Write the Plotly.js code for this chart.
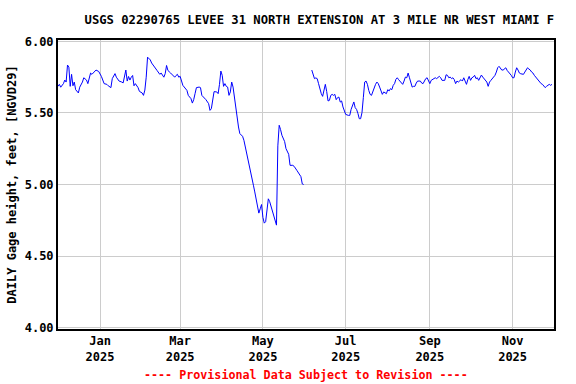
<!DOCTYPE html>
<html>
<head>
<meta charset="utf-8">
<script src="https://cdn.plot.ly/plotly-3.0.1.min.js"></script>
<style>html,body{margin:0;padding:0;background:#fff}#chart{width:576px;height:384px}</style>
</head>
<body>
<div id="chart"></div>
<script>
const chartTitle = "USGS 02290765 LEVEE 31 NORTH EXTENSION AT 3 MILE NR WEST MIAMI F";
const yAxisTitle = "DAILY Gage height, feet, [NGVD29]";
const footnote = "---- Provisional Data Subject to Revision ----";

const tickDates = ["2025-01-01","2025-03-01","2025-05-01","2025-07-01","2025-09-01","2025-11-01"];
const tickLabels = ["Jan<br>2025","Mar<br>2025","May<br>2025","Jul<br>2025","Sep<br>2025","Nov<br>2025"];
const yTicks = [4.00, 4.50, 5.00, 5.50, 6.00];

const dates = [
"2024-12-01","2024-12-02","2024-12-03","2024-12-05","2024-12-06","2024-12-07","2024-12-08","2024-12-09","2024-12-10","2024-12-11",
"2024-12-12","2024-12-13","2024-12-14","2024-12-16","2024-12-17","2024-12-19","2024-12-20","2024-12-22","2024-12-23","2024-12-25",
"2024-12-26","2024-12-28","2024-12-29","2024-12-31","2025-01-02","2025-01-04","2025-01-06","2025-01-07","2025-01-09","2025-01-10",
"2025-01-12","2025-01-13","2025-01-15","2025-01-17","2025-01-18","2025-01-20","2025-01-21","2025-01-22","2025-01-23","2025-01-24",
"2025-01-25","2025-01-26","2025-01-27","2025-01-29","2025-01-30","2025-02-01","2025-02-02","2025-02-03","2025-02-04","2025-02-05",
"2025-02-07","2025-02-08","2025-02-10","2025-02-12","2025-02-14","2025-02-15","2025-02-17","2025-02-18","2025-02-19","2025-02-20",
"2025-02-22","2025-02-23","2025-02-25","2025-02-26","2025-02-27","2025-02-28",
"2025-03-01","2025-03-03","2025-03-04","2025-03-06","2025-03-07","2025-03-09","2025-03-10","2025-03-11","2025-03-12","2025-03-13",
"2025-03-15","2025-03-16","2025-03-17","2025-03-19","2025-03-20","2025-03-22","2025-03-23","2025-03-24","2025-03-25","2025-03-26",
"2025-03-28","2025-03-29","2025-03-30","2025-03-31","2025-04-01","2025-04-02","2025-04-03","2025-04-04","2025-04-05","2025-04-06",
"2025-04-07","2025-04-08","2025-04-09","2025-04-10","2025-04-11","2025-04-12","2025-04-13","2025-04-14","2025-04-16","2025-04-17",
"2025-04-18","2025-04-19","2025-04-20","2025-04-21","2025-04-22","2025-04-23","2025-04-24","2025-04-25","2025-04-26","2025-04-27",
"2025-04-28","2025-04-29","2025-04-30","2025-05-01","2025-05-02","2025-05-03","2025-05-04","2025-05-05","2025-05-06","2025-05-07",
"2025-05-08","2025-05-09","2025-05-10","2025-05-11","2025-05-12","2025-05-13","2025-05-14","2025-05-15","2025-05-17","2025-05-18",
"2025-05-20","2025-05-21","2025-05-23","2025-05-24","2025-05-26","2025-05-27","2025-05-29","2025-05-30","2025-05-31",
"2025-06-03",
"2025-06-06","2025-06-07","2025-06-08","2025-06-09","2025-06-10","2025-06-11","2025-06-12","2025-06-13","2025-06-14","2025-06-15",
"2025-06-16","2025-06-17","2025-06-18","2025-06-19","2025-06-20","2025-06-21","2025-06-22","2025-06-23","2025-06-24","2025-06-25",
"2025-06-26","2025-06-27","2025-06-28","2025-06-29","2025-06-30","2025-07-01","2025-07-03","2025-07-04","2025-07-05","2025-07-06",
"2025-07-07","2025-07-08","2025-07-09","2025-07-10","2025-07-11","2025-07-12","2025-07-13","2025-07-14","2025-07-15","2025-07-16",
"2025-07-17","2025-07-18","2025-07-19","2025-07-20","2025-07-21","2025-07-22","2025-07-23","2025-07-24","2025-07-25","2025-07-26",
"2025-07-27","2025-07-28","2025-07-29","2025-07-30","2025-07-31","2025-08-01","2025-08-02","2025-08-03","2025-08-04","2025-08-05",
"2025-08-06","2025-08-07","2025-08-08","2025-08-09","2025-08-10","2025-08-11","2025-08-12","2025-08-13","2025-08-14","2025-08-15",
"2025-08-16","2025-08-17","2025-08-18","2025-08-19","2025-08-20","2025-08-21","2025-08-22","2025-08-23","2025-08-25","2025-08-26",
"2025-08-27","2025-08-28","2025-08-29","2025-08-30","2025-08-31","2025-09-01","2025-09-02","2025-09-03","2025-09-04","2025-09-05",
"2025-09-06","2025-09-07","2025-09-08","2025-09-09","2025-09-10","2025-09-12","2025-09-13","2025-09-14","2025-09-15","2025-09-16",
"2025-09-17","2025-09-18","2025-09-19","2025-09-20","2025-09-21","2025-09-22","2025-09-23","2025-09-24","2025-09-25","2025-09-26",
"2025-09-27","2025-09-28","2025-09-29","2025-09-30","2025-10-01","2025-10-02","2025-10-03","2025-10-04","2025-10-05","2025-10-06",
"2025-10-07","2025-10-08","2025-10-09","2025-10-10","2025-10-11","2025-10-12","2025-10-13","2025-10-14","2025-10-15","2025-10-16",
"2025-10-17","2025-10-18","2025-10-19","2025-10-20","2025-10-21","2025-10-22","2025-10-23","2025-10-24","2025-10-25","2025-10-26",
"2025-10-27","2025-10-28","2025-10-29","2025-10-30","2025-10-31","2025-11-01","2025-11-02","2025-11-03","2025-11-04","2025-11-05",
"2025-11-06","2025-11-07","2025-11-08","2025-11-09","2025-11-10","2025-11-11","2025-11-12","2025-11-13","2025-11-14","2025-11-15",
"2025-11-16","2025-11-17","2025-11-18","2025-11-19","2025-11-20","2025-11-21","2025-11-22","2025-11-23","2025-11-24","2025-11-25",
"2025-11-26","2025-11-27","2025-11-28","2025-11-29","2025-11-30"
];

const gage = [
5.686,5.70,5.68,5.705,5.73,5.716,5.835,5.82,5.686,5.77,
5.69,5.716,5.663,5.64,5.68,5.716,5.746,5.73,5.705,5.779,
5.77,5.793,5.80,5.79,5.755,5.705,5.70,5.69,5.677,5.74,
5.775,5.75,5.723,5.716,5.71,5.80,5.723,5.755,5.73,5.75,
5.762,5.69,5.705,5.677,5.651,5.64,5.623,5.66,5.75,5.89,
5.871,5.849,5.826,5.797,5.77,5.779,5.75,5.775,5.832,5.797,
5.779,5.77,5.75,5.762,5.77,5.75,
5.756,5.693,5.681,5.658,5.623,5.60,5.569,5.593,5.635,5.677,
5.681,5.677,5.623,5.607,5.593,5.565,5.518,5.53,5.593,5.649,
5.647,5.635,5.70,5.793,5.763,5.686,5.705,5.686,5.681,5.623,
5.647,5.716,5.681,5.611,5.523,5.46,5.402,5.356,5.337,5.309,
5.267,5.227,5.181,5.134,5.10,5.053,4.995,4.948,4.902,4.855,
4.80,4.83,4.86,4.77,4.73,4.74,4.85,4.90,4.88,4.85,
4.81,4.785,4.75,4.716,5.27,5.414,5.384,5.344,5.30,5.251,
5.211,5.134,5.134,5.127,5.099,5.083,5.055,5.004,5.00,
null,
5.80,5.763,5.74,5.745,5.74,5.705,5.658,5.635,5.616,5.663,
5.70,5.65,5.584,5.588,5.623,5.63,5.623,5.63,5.593,5.607,
5.611,5.576,5.584,5.542,5.521,5.49,5.483,5.483,5.525,5.56,
5.577,5.537,5.525,5.497,5.46,5.46,5.502,5.607,5.716,5.723,
5.70,5.658,5.63,5.623,5.651,5.677,5.70,5.716,5.705,5.681,
5.647,5.63,5.647,5.64,5.635,5.663,5.654,5.67,5.663,5.693,
5.705,5.735,5.746,5.733,5.723,5.716,5.70,5.723,5.751,5.746,
5.779,5.746,5.716,5.681,5.686,5.686,5.709,5.723,5.723,5.709,
5.705,5.723,5.74,5.746,5.723,5.705,5.728,5.733,5.74,5.746,
5.74,5.751,5.756,5.746,5.728,5.728,5.767,5.763,5.746,5.751,
5.74,5.746,5.733,5.705,5.723,5.716,5.728,5.733,5.723,5.746,
5.723,5.70,5.733,5.756,5.728,5.746,5.751,5.763,5.74,5.746,
5.728,5.746,5.765,5.751,5.74,5.728,5.716,5.686,5.716,5.728,
5.74,5.751,5.763,5.786,5.816,5.826,5.816,5.80,5.80,5.807,
5.816,5.797,5.786,5.779,5.763,5.746,5.746,5.786,5.816,5.80,
5.779,5.774,5.77,5.77,5.786,5.797,5.816,5.807,5.80,5.786,
5.779,5.763,5.751,5.74,5.733,5.723,5.705,5.70,5.686,5.677,
5.686,5.693,5.70,5.693,5.70
];

const monoFont = "DejaVu Sans Mono";

const trace = {
  x: dates, y: gage, type: "scatter", mode: "lines",
  line: {color: "#0000ff", width: 1},
  connectgaps: false, hoverinfo: "x+y"
};

const layout = {
  width: 576, height: 384,
  margin: {l: 58, r: 22, t: 40, b: 55},
  paper_bgcolor: "#ffffff", plot_bgcolor: "#ffffff",
  showlegend: false,
  font: {family: monoFont, size: 12, color: "#000000", weight: "bold"},
  title: {
    text: chartTitle,
    font: {family: monoFont, size: 12.2, color: "#000000", weight: "bold"},
    xref: "paper", x: 0.527, xanchor: "center",
    yref: "container", y: 0.948, yanchor: "middle"
  },
  xaxis: {
    type: "date",
    range: ["2024-12-01", "2025-12-01 12:00"],
    tickmode: "array", tickvals: tickDates, ticktext: tickLabels,
    ticks: "", showgrid: true, gridcolor: "#cccccc", gridwidth: 1,
    showline: true, linecolor: "#000000", linewidth: 2, mirror: true,
    zeroline: false,
    tickfont: {family: monoFont, size: 12, color: "#000000", weight: "bold"}
  },
  yaxis: {
    range: [3.99, 6.01],
    tickmode: "array", tickvals: yTicks, tickformat: ".2f",
    ticks: "", showgrid: true, gridcolor: "#cccccc", gridwidth: 1,
    showline: true, linecolor: "#000000", linewidth: 2, mirror: true,
    zeroline: false,
    tickfont: {family: monoFont, size: 12, color: "#000000", weight: "bold"},
    title: {text: yAxisTitle, standoff: 5,
      font: {family: monoFont, size: 12, color: "#000000", weight: "bold"}}
  },
  annotations: [{
    text: footnote, showarrow: false,
    xref: "paper", x: 0.5, xanchor: "center",
    yref: "paper", y: -0.16, yanchor: "middle",
    font: {family: monoFont, size: 11.7, color: "#ff0000", weight: "bold"}
  }]
};

Plotly.newPlot("chart", [trace], layout, {displayModeBar: false, staticPlot: true});
</script>
</body>
</html>
